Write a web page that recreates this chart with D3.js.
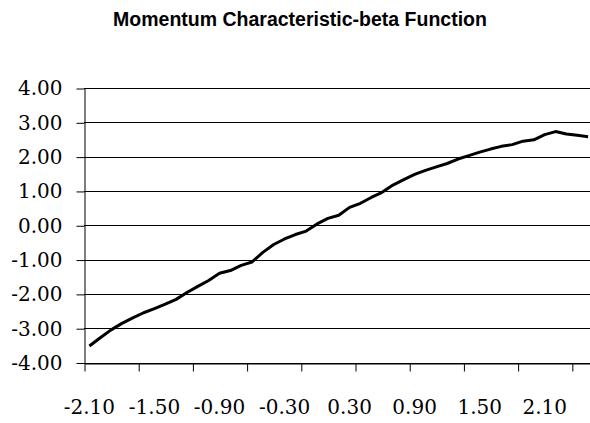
<!DOCTYPE html>
<html>
<head>
<meta charset="utf-8">
<script src="https://cdn.jsdelivr.net/npm/d3@7"></script>
<style>
  body { margin: 0; background: #fff; }
  svg { display: block; }
</style>
</head>
<body>
<div id="chart"></div>
<script>
// momentum characteristic values (x) and fitted beta
var xValues = [-2.1, -2.0, -1.9, -1.8, -1.7, -1.6, -1.5, -1.4, -1.3, -1.2,
               -1.1, -1.0, -0.9, -0.8, -0.7, -0.6, -0.5, -0.4, -0.3, -0.2,
               -0.1, 0.0, 0.1, 0.2, 0.3, 0.4, 0.5, 0.6, 0.7, 0.8,
               0.9, 1.0, 1.1, 1.2, 1.3, 1.4, 1.5, 1.6, 1.7, 1.8,
               1.9, 2.0, 2.1, 2.2, 2.3, 2.4, 2.5];
var betaValues = [-3.52, -3.28, -3.05, -2.86, -2.70, -2.55, -2.43, -2.30, -2.16, -1.96,
                  -1.78, -1.61, -1.40, -1.32, -1.17, -1.07, -0.79, -0.56, -0.40, -0.27,
                  -0.17, 0.04, 0.20, 0.29, 0.52, 0.64, 0.81, 0.96, 1.17, 1.33,
                  1.48, 1.60, 1.70, 1.80, 1.93, 2.03, 2.13, 2.22, 2.30, 2.35,
                  2.45, 2.49, 2.64, 2.73, 2.66, 2.62, 2.58];
var yTickValues = [-4, -3, -2, -1, 0, 1, 2, 3, 4];

var labelEvery = 6,   // category label interval
    tickEvery = 5;    // tick mark interval

var svg = d3.select('#chart')
    .append('svg')
    .attr('width', 590)
    .attr('height', 423);

var plotLeft = 84, plotRight = 593.5, plotTop = 88, plotBottom = 362.5;

var x = d3.scaleBand()
    .domain(d3.range(xValues.length))
    .range([plotLeft, plotRight]);

var xEdge = d3.scaleLinear()
    .domain([0, xValues.length])
    .range([plotLeft, plotRight]);

var y = d3.scaleLinear()
    .domain([-4, 4])
    .range([plotBottom, plotTop]);

svg.append('text')
    .attr('x', 300)
    .attr('y', 26)
    .attr('text-anchor', 'middle')
    .style('font-family', '"Liberation Sans", Arial, sans-serif')
    .style('font-weight', 'bold')
    .style('font-size', '19.5px')
    .text('Momentum Characteristic-beta Function');

// horizontal gridlines
svg.append('g')
    .selectAll('line')
    .data(yTickValues)
    .enter().append('line')
    .attr('x1', plotLeft)
    .attr('x2', 590)
    .attr('y1', function (d) { return Math.round(y(d)) + 0.5; })
    .attr('y2', function (d) { return Math.round(y(d)) + 0.5; })
    .attr('stroke', '#000')
    .attr('stroke-width', 1);

var yAxis = svg.append('g')
    .attr('transform', 'translate(' + (plotLeft + 0.5) + ',0.5)')
    .call(d3.axisLeft(y)
        .tickValues(yTickValues)
        .tickFormat(function (d) { return d.toFixed(2); })
        .tickSize(8)
        .tickSizeOuter(0)
        .tickPadding(14));

var xTicks = svg.append('g')
    .attr('transform', 'translate(0.5,' + (Math.round(plotBottom) + 0.5) + ')')
    .call(d3.axisBottom(xEdge)
        .tickValues(d3.range(0, xValues.length, tickEvery))
        .tickFormat('')
        .tickSize(8)
        .tickSizeOuter(0));

var xLabels = svg.append('g')
    .attr('transform', 'translate(0,' + plotBottom + ')')
    .call(d3.axisBottom(x)
        .tickValues(d3.range(0, xValues.length, labelEvery))
        .tickFormat(function (i) { return xValues[i].toFixed(2); })
        .tickSize(0)
        .tickPadding(37));
xLabels.select('.domain').remove();

svg.selectAll('.tick text')
    .style('font-family', '"DejaVu Serif", serif')
    .style('font-size', '20px')
    .attr('fill', '#000');
svg.selectAll('.domain, .tick line')
    .attr('stroke', '#000');

var line = d3.line()
    .x(function (d, i) { return x(i) + x.bandwidth() / 2; })
    .y(function (d) { return y(d); });

svg.append('path')
    .datum(betaValues)
    .attr('d', line)
    .attr('fill', 'none')
    .attr('stroke', '#000')
    .attr('stroke-width', 3)
    .attr('stroke-linejoin', 'round');
</script>
</body>
</html>
